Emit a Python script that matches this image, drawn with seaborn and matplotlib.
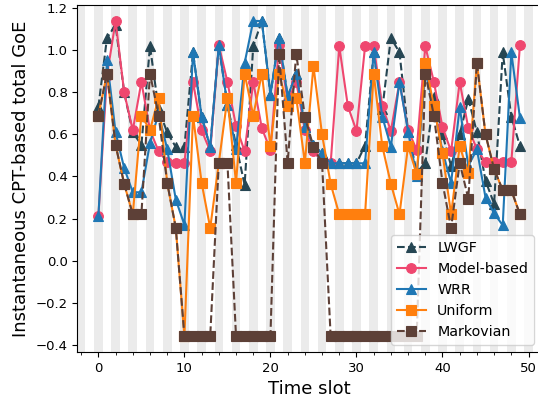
import matplotlib
matplotlib.use("Agg")
import matplotlib.pyplot as plt
from matplotlib.ticker import MultipleLocator
import seaborn as sns

slots = list(range(50))

lwgf = [0.73, 1.06, 1.12, 0.80, 0.61, 0.55, 1.02, 0.72, 0.61, 0.54,
        0.54, 0.99, 0.685, 0.54, 1.025, 0.74, 0.55, 0.36, 1.02, 1.14,
        0.79, 1.06, 0.78, 0.89, 0.637, 0.55, 0.51, 0.463, 0.463, 0.463,
        0.463, 0.547, 0.99, 0.72, 1.06, 0.99, 0.614, 0.42, 0.463, 0.78,
        0.60, 0.45, 0.60, 0.77, 0.61, 0.38, 0.27, 0.99, 0.685, 0.545]

model_based = [0.21, 0.88, 1.14, 0.80, 0.62, 0.85, 0.62, 0.52, 0.47, 0.465,
               0.465, 0.85, 0.62, 0.52, 1.025, 0.85, 0.64, 0.52, 0.85, 0.63,
               0.525, 1.025, 0.76, 0.85, 0.62, 0.52, 0.47, 0.463, 1.02, 0.735,
               0.617, 1.02, 1.02, 0.735, 0.617, 0.85, 0.62, 0.527, 1.02, 0.85,
               0.635, 0.52, 0.85, 0.63, 0.53, 0.468, 0.468, 0.468, 0.468, 1.025]

wrr = [0.21, 0.955, 0.61, 0.44, 0.325, 0.325, 0.56, 0.70, 0.53, 0.29,
       0.17, 0.99, 0.685, 0.54, 1.025, 0.74, 0.53, 0.94, 1.14, 1.14,
       0.79, 1.06, 0.78, 0.89, 0.637, 0.55, 0.51, 0.463, 0.463, 0.463,
       0.463, 0.463, 0.99, 0.685, 0.542, 0.85, 0.614, 0.40, 0.90, 0.73,
       0.52, 0.37, 0.73, 0.45, 0.53, 0.30, 0.225, 0.168, 0.99, 0.68]

uniform = [0.69, 0.89, 0.55, 0.365, 0.22, 0.69, 0.62, 0.775, 0.37, 0.155,
           -0.36, 0.69, 0.37, 0.155, 0.465, 0.775, 0.37, 0.89, 0.69, 0.89,
           0.545, 0.89, 0.735, 0.775, 0.465, 0.925, 0.60, 0.365, 0.22, 0.22,
           0.22, 0.22, 0.89, 0.545, 0.365, 0.22, 0.545, 0.41, 0.94, 0.735,
           0.51, 0.22, 0.545, 0.415, 0.94, 0.60, 0.435, 0.335, 0.335, 0.22]

markovian = [0.69, 0.89, 0.55, 0.365, 0.22, 0.22, 0.89, 0.69, 0.37, 0.155,
             -0.36, -0.36, -0.36, -0.36, 0.465, 0.465, -0.36, -0.36, -0.36, -0.36,
             -0.36, 0.985, 0.465, 0.985, 0.685, 0.54, 0.465, -0.36, -0.36, -0.36,
             -0.36, -0.36, -0.36, -0.36, -0.36, -0.36, -0.36, -0.36, 0.89, 0.69,
             0.37, 0.155, 0.465, 0.295, 0.94, 0.60, 0.435, 0.335, 0.335, 0.22]

series = [
    ("LWGF", lwgf, "#264653", "^", "--"),
    ("Model-based", model_based, "#ef476f", "o", "-"),
    ("WRR", wrr, "#1f77b4", "^", "-"),
    ("Uniform", uniform, "#ff7f0e", "s", "-"),
    ("Markovian", markovian, "#5d4037", "s", "--"),
]

plt.rcParams['font.family'] = ['DejaVu Sans']

fig = plt.figure(figsize=(5.38, 4.03), dpi=100)
# the axes run slightly past the right edge of the canvas
ax = fig.add_axes([77.3 / 538, 1 - 352 / 403, (541 - 77.3) / 538, (352 - 5.2) / 403])

# alternating shaded time slots
for s in range(-2, 53, 2):
    ax.axvspan(s - 0.5, s + 0.5, color="#ebebeb", lw=0, zorder=0)

for name, vals, col, mk, ls in series:
    sns.lineplot(x=slots, y=vals, ax=ax, color=col, marker=mk, linestyle=ls,
                 linewidth=1.5, markersize=7, markeredgecolor=col,
                 markeredgewidth=0.8, label=name)

ax.set_xlim(-2.45, 51.45)
ax.set_ylim(-0.435, 1.215)
ax.xaxis.set_major_locator(MultipleLocator(10))
ax.xaxis.set_minor_locator(MultipleLocator(2))
ax.yaxis.set_major_locator(MultipleLocator(0.2))
ax.tick_params(labelsize=9.5)
ax.set_xlabel("Time slot", fontsize=13)
ax.set_ylabel("Instantaneous CPT-based total GoE", fontsize=13)
ax.legend(loc="lower right", fontsize=10.3)

fig.savefig("out.png", dpi=100)
